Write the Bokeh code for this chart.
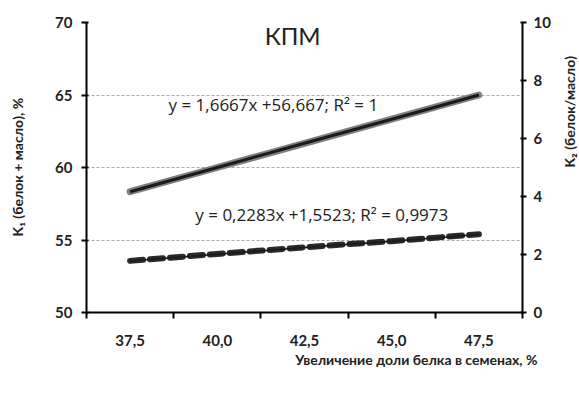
import math
from bokeh.plotting import figure
from bokeh.models import (Range1d, LinearAxis, FixedTicker, CustomJSTickFormatter,
                          Label, Legend, LegendItem, Title)
from bokeh.embed import file_html
from bokeh.resources import INLINE

# ---- data ----
x_vals = [37.5, 40.0, 42.5, 45.0, 47.5]
k1_vals = [58.33, 60.0, 61.67, 63.33, 65.0]
k2_vals = [1.78, 2.02, 2.25, 2.46, 2.70]
k2_trend = [1.78, 2.01, 2.24, 2.46, 2.69]
x_ticks = [37.5, 40.0, 42.5, 45.0, 47.5]
x_tick_marks = [36.25, 38.75, 41.25, 43.75, 46.25, 48.75]
y1_ticks = [50, 55, 60, 65, 70]
y2_ticks = [0, 2, 4, 6, 8, 10]
title_text = "КПМ"
eq1_text = "y = 1,6667x +56,667;  R² = 1"
eq2_text = "y = 0,2283x +1,5523;  R² = 0,9973"
y1_label = "K₁ (белок + масло), %"
y2_label = "K₂ (белок/масло)"
x_label = "Увеличение доли белка в семенах, %"
leg1 = "К1 (белок+масло)"
leg2 = "К2 (белок/масло)"

FONT = "Lato"
TXT = "#222222"

p = figure(frame_width=436, frame_height=290, output_backend="svg", toolbar_location=None,
           x_range=Range1d(36.25, 48.75), y_range=Range1d(50, 70),
           min_border_left=86, min_border_right=57, min_border_top=22,
           min_border_bottom=87)
p.outline_line_color = None
p.background_fill_color = "white"
p.border_fill_color = "white"
p.xgrid.grid_line_color = None
p.ygrid.grid_line_color = "#aaaaaa"
p.ygrid.grid_line_dash = "3 2"
p.ygrid.grid_line_width = 1
p.ygrid.ticker = FixedTicker(ticks=y1_ticks)

p.extra_y_ranges = {"r": Range1d(0, 10)}

# x axis
xa = p.xaxis[0]
xa.ticker = FixedTicker(ticks=x_ticks, minor_ticks=x_tick_marks)
xa.formatter = CustomJSTickFormatter(code="return tick.toFixed(1).replace('.', ',');")
xa.major_tick_out = 0
xa.major_tick_in = 0
xa.minor_tick_out = 6
xa.minor_tick_in = 0
xa.minor_tick_line_color = "black"
xa.minor_tick_line_width = 2
xa.major_label_standoff = 16

# left axis
ya = p.yaxis[0]
ya.ticker = FixedTicker(ticks=y1_ticks)
ya.major_tick_out = 5
ya.major_tick_in = 2
ya.minor_tick_line_color = None
ya.major_label_standoff = 9
ya.axis_label = y1_label
ya.axis_label_standoff = 26

# right axis
ra = LinearAxis(y_range_name="r", ticker=FixedTicker(ticks=y2_ticks))
ra.major_tick_out = 4
ra.major_tick_in = 2
ra.minor_tick_line_color = None
ra.major_label_standoff = 7
ra.axis_label = y2_label
ra.axis_label_standoff = 16
ra.axis_label_orientation = math.pi / 2
p.add_layout(ra, "right")

for ax in (xa, ya, ra):
    ax.axis_line_color = "black"
    ax.axis_line_width = 2
    ax.major_tick_line_color = "black"
    ax.major_tick_line_width = 2
    ax.major_label_text_font = FONT
    ax.major_label_text_font_style = "bold"
    ax.major_label_text_font_size = "15px"
    ax.major_label_text_color = TXT
    ax.axis_label_text_font = FONT
    ax.axis_label_text_font_style = "bold"
    ax.axis_label_text_font_size = "14px"
    ax.axis_label_text_color = TXT

# x axis title (right aligned, as in the reference)
xt = Title(text=x_label, align="right", offset=-15, standoff=0,
           text_font=FONT, text_font_size="14px", text_font_style="bold",
           text_color=TXT)
p.add_layout(xt, "below")

# series
r1 = p.line(x_vals, k1_vals, line_color="#808080", line_width=7, line_cap="round")
p.line(x_vals, k1_vals, line_color="#1a1a1a", line_width=3)
r2 = p.line(x_vals, k2_vals, line_color="#2a2a2a", line_width=6,
            line_dash="13 7", line_cap="round", y_range_name="r")
p.line(x_vals, k2_trend, line_color="#1a1a1a", line_width=1.5, y_range_name="r")

# texts inside plot
def lab(x, y, t, size, font=FONT, align="left"):
    l = Label(x=x, y=y, text=t, text_font=font, text_font_size=size,
              text_color=TXT, text_align=align, text_baseline="middle")
    p.add_layout(l)
    return l

lab(42.16, 69.1, title_text, "24px", align="center")
lab(38.6, 64.35, eq1_text, "17px", font="Open Sans")
lab(39.37, 56.73, eq2_text, "17px", font="Open Sans")

legend = Legend(items=[LegendItem(label=leg1, renderers=[r1]),
                       LegendItem(label=leg2, renderers=[r2])],
                orientation="horizontal", location="left",
                glyph_width=48, glyph_height=12, label_height=12,
                label_standoff=4, spacing=36, padding=0, margin=0,
                border_line_color=None, background_fill_alpha=0,
                label_text_font=FONT, label_text_font_size="14px",
                label_text_color="#333333")
p.add_layout(legend, "below")

open("out.html", "w").write(file_html(p, INLINE))
